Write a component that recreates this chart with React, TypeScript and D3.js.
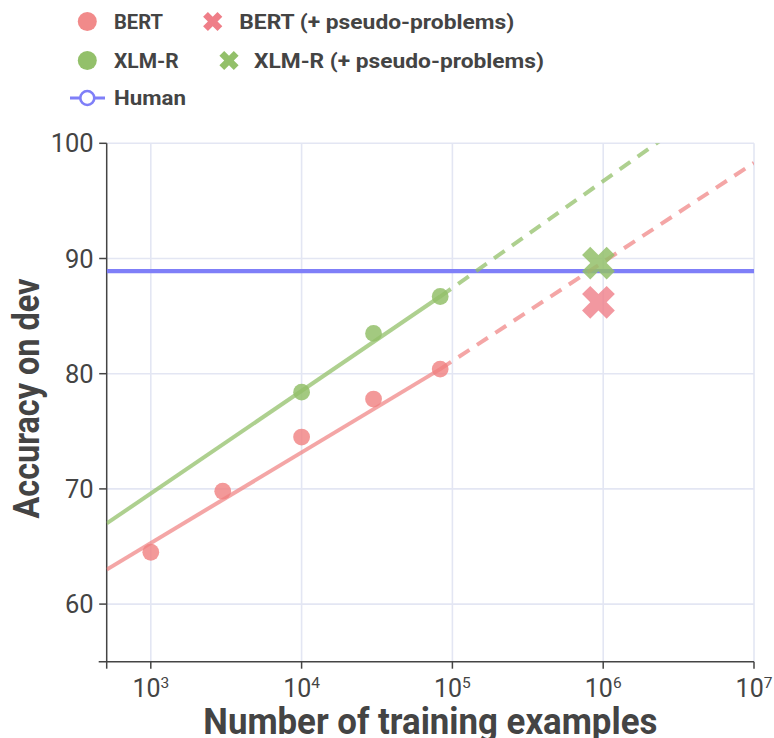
import React from 'react';
import * as d3 from 'd3';

// ---- data ----
const bertSizes = [1000, 3000, 10000, 30000, 83000];
const bertAcc = [64.5, 69.8, 74.5, 77.8, 80.4];
const xlmrSizes = [10000, 30000, 83000];
const xlmrAcc = [78.4, 83.5, 86.7];
const pseudoSizes = [930000];
const bertPseudoAcc = [86.2];
const xlmrPseudoAcc = [89.6];
const humanAcc = [88.9];
// trend lines: solid up to the last measured size, dashed extrapolation after it
const trendSizes = [510, 83000, 1e7];
const bertTrendAcc = [63.0, 80.4, 98.3];
const xlmrTrendAcc = [67.0, 86.7, 106.0];
const xTickValues = [1e3, 1e4, 1e5, 1e6, 1e7];
const yTickValues = [60, 70, 80, 90, 100];
const xDomain = [510, 1e7];
const yDomain = [55, 100];

const W = 774;
const H = 738;
const L = 106.7, R = 754, T = 143.3, B = 661.7;

const FONT = 'Roboto, "Open Sans", "Noto Sans", sans-serif';
const TXT = '#444444';
const GRID = '#E3E6F3';
const BERT_C = '#F08080';
const BERT_X = '#EF7E88';
const XLMR_C = '#93C06A';
const HUMAN_C = '#7F7FF8';

function xPath(rx: number) {
  const p = [
    [0, rx], [rx, 2 * rx], [2 * rx, rx], [rx, 0], [2 * rx, -rx], [rx, -2 * rx],
    [0, -rx], [-rx, -2 * rx], [-2 * rx, -rx], [-rx, 0], [-2 * rx, rx], [-rx, 2 * rx],
  ];
  return 'M' + p.map((q) => q.join(',')).join('L') + 'Z';
}

export default function App() {
  const x = d3.scaleLog().domain(xDomain).range([L, R]);
  const y = d3.scaleLinear().domain(yDomain).range([B, T]);

  const line = d3.line<number[]>().x((d) => x(d[0])).y((d) => y(d[1]));
  const pts = (acc: number[], i0: number, i1: number) =>
    trendSizes.slice(i0, i1 + 1).map((s, k) => [s, acc[i0 + k]]);

  const legendRows = [21.5, 60.5, 98];

  return (
    <svg width={W} height={H} style={{ position: 'absolute', left: 0, top: 0, background: '#fff' }}
      fontFamily={FONT}>
      <defs>
        <clipPath id="plot"><rect x={L} y={T} width={R - L} height={B - T} /></clipPath>
      </defs>
      <rect x={0} y={0} width={W} height={H} fill="#fff" />

      {/* grid */}
      {xTickValues.map((t) => (
        <line key={'gx' + t} x1={x(t)} x2={x(t)} y1={T} y2={B} stroke={GRID} strokeWidth={1.6} />
      ))}
      {yTickValues.map((t) => (
        <line key={'gy' + t} x1={L} x2={R} y1={y(t)} y2={y(t)} stroke={GRID} strokeWidth={1.6} />
      ))}

      {/* axes */}
      <line x1={L} x2={L} y1={T} y2={B} stroke={TXT} strokeWidth={1.5} />
      <line x1={L - 8} x2={R} y1={B} y2={B} stroke={TXT} strokeWidth={1.5} />
      {yTickValues.map((t) => (
        <g key={'yt' + t}>
          <line x1={L - 7.5} x2={L} y1={y(t)} y2={y(t)} stroke={TXT} strokeWidth={1.5} />
          <text x={L - 13} y={y(t)} dy="0.36em" textAnchor="end" fontSize={25.5} fill={TXT}>{t}</text>
        </g>
      ))}
      <line x1={L} x2={L} y1={B} y2={B + 7} stroke={TXT} strokeWidth={1.5} />
      {xTickValues.map((t) => (
        <g key={'xt' + t}>
          <line x1={x(t)} x2={x(t)} y1={B} y2={B + 7} stroke={TXT} strokeWidth={1.5} />
          <text x={x(t)} y={696.7} textAnchor="middle" fontSize={25} fill={TXT}>
            <tspan>10</tspan>
            <tspan dy={-8.6} fontSize={15.5}>{Math.round(Math.log10(t))}</tspan>
          </text>
        </g>
      ))}

      {/* titles */}
      <text x={(L + R) / 2} y={734} textAnchor="middle" fontSize={36} fontWeight={700} fill={TXT}
        textLength={454} lengthAdjust="spacingAndGlyphs">Number of training examples</text>
      <text transform={`translate(38.5,${(T + B) / 2 - 4}) rotate(-90)`} textAnchor="middle" fontSize={36}
        fontWeight={700} fill={TXT} textLength={240} lengthAdjust="spacingAndGlyphs">Accuracy on dev</text>

      {/* plot content */}
      <g clipPath="url(#plot)">
        <path d={line([[xDomain[0], humanAcc[0]], [xDomain[1], humanAcc[0]]]) as string}
          stroke={HUMAN_C} strokeWidth={4.2} fill="none" />
        <path d={line(pts(bertTrendAcc, 0, 1)) as string} stroke={BERT_C} strokeOpacity={0.7} strokeWidth={4} fill="none" />
        <path d={line(pts(bertTrendAcc, 1, 2)) as string} stroke={BERT_C} strokeOpacity={0.7} strokeWidth={4} fill="none"
          strokeDasharray="13,9" />
        <path d={line(pts(xlmrTrendAcc, 0, 1)) as string} stroke={XLMR_C} strokeOpacity={0.75} strokeWidth={4} fill="none" />
        <path d={line(pts(xlmrTrendAcc, 1, 2)) as string} stroke={XLMR_C} strokeOpacity={0.75} strokeWidth={4} fill="none"
          strokeDasharray="13,9" />

        {bertSizes.map((s, i) => (
          <circle key={'b' + i} cx={x(s)} cy={y(bertAcc[i])} r={8.4} fill={BERT_C} fillOpacity={0.8} />
        ))}
        {xlmrSizes.map((s, i) => (
          <circle key={'x' + i} cx={x(s)} cy={y(xlmrAcc[i])} r={8.4} fill={XLMR_C} fillOpacity={0.85} />
        ))}
        {pseudoSizes.map((s, i) => (
          <path key={'bp' + i} d={xPath(8.2)} transform={`translate(${x(s)},${y(bertPseudoAcc[i])})`}
            fill={BERT_X} fillOpacity={0.8} />
        ))}
        {pseudoSizes.map((s, i) => (
          <path key={'xp' + i} d={xPath(8.2)} transform={`translate(${x(s)},${y(xlmrPseudoAcc[i])})`}
            fill={XLMR_C} fillOpacity={0.85} />
        ))}
      </g>

      {/* legend */}
      <g fontSize={20.5} fontWeight={700} fill={TXT}>
        <circle cx={87.3} cy={legendRows[0]} r={9.5} fill={BERT_C} fillOpacity={0.92} />
        <text x={114} y={legendRows[0]} dy="0.36em" textLength={49} lengthAdjust="spacingAndGlyphs">BERT</text>
        <path d={xPath(4.8)} transform={`translate(212.7,${legendRows[0]})`} fill={BERT_X} />
        <text x={239.3} y={legendRows[0]} dy="0.36em" textLength={275} lengthAdjust="spacingAndGlyphs">BERT (+ pseudo-problems)</text>

        <circle cx={87.3} cy={legendRows[1]} r={9.5} fill={XLMR_C} />
        <text x={114} y={legendRows[1]} dy="0.36em" textLength={64.7} lengthAdjust="spacingAndGlyphs">XLM-R</text>
        <path d={xPath(4.8)} transform={`translate(229,${legendRows[1]})`} fill={XLMR_C} />
        <text x={254} y={legendRows[1]} dy="0.36em" textLength={290} lengthAdjust="spacingAndGlyphs">XLM-R (+ pseudo-problems)</text>

        <line x1={70} x2={105} y1={legendRows[2]} y2={legendRows[2]} stroke={HUMAN_C} strokeWidth={3} />
        <circle cx={87.3} cy={legendRows[2]} r={7} fill="#fff" stroke={HUMAN_C} strokeWidth={2.6} />
        <text x={114} y={legendRows[2]} dy="0.36em" textLength={72} lengthAdjust="spacingAndGlyphs">Human</text>
      </g>
    </svg>
  );
}
